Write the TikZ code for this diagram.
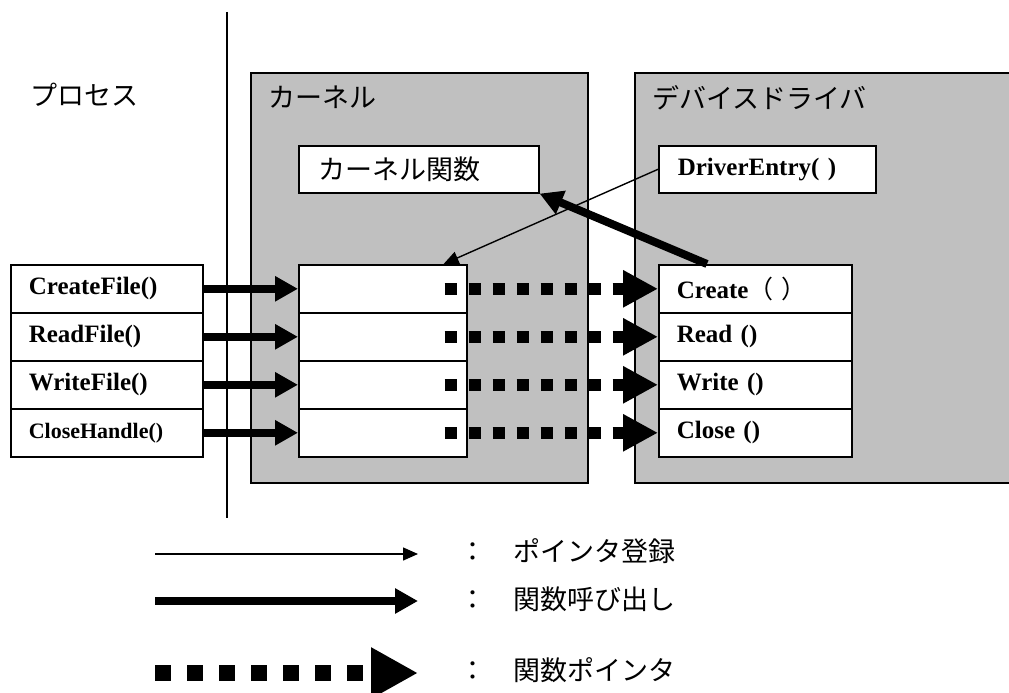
\documentclass[tikz,border=0pt]{standalone}
\usepackage{fontspec}
\setmainfont{Liberation Serif}
\newfontfamily\jp{Noto Sans CJK JP}
\usetikzlibrary{arrows.meta}
\definecolor{panelgray}{RGB}{192,192,192}

\tikzset{
  panel/.style={draw, fill=panelgray, line width=1.6pt, anchor=north west, inner sep=0pt},
  fnbox/.style={draw, fill=white, line width=1.6pt, anchor=north west, minimum height=48pt,
    inner ysep=0pt, inner xsep=18pt, text width=#1, align=left,
    font=\fontsize{25}{29}\selectfont\bfseries},
  jlabel/.style={anchor=west, inner sep=0pt, font=\jp\fontsize{27}{32}\selectfont},
  call/.style={line width=8pt, -{Triangle[length=23pt,width=24pt]}},
  reg/.style={line width=1.4pt, -{Triangle[length=15pt,width=13pt]}},
  fptr/.style={line width=12pt, dash pattern=on 12pt off 12pt, -{Triangle[length=35pt,width=35pt]}},
}

\begin{document}
\begin{tikzpicture}[x=1pt, y=-1pt]
  \useasboundingbox (0,0) rectangle (1009,693);

  %境界線
  \draw[line width=1.5pt] (227,12) -- (227,518);

  % カーネルとドライバ
  \node[panel, minimum width=337pt, minimum height=410pt] (kern) at (250,72) {};
  \node[panel, minimum width=390pt, minimum height=410pt] (drv) at (634,72) {};
  \node[jlabel] (lproc) at (30,95) {プロセス};
  \node[jlabel] (lkern) at (268,97) {カーネル};
  \node[jlabel] (ldrv) at (652,98) {デバイスドライバ};

  % 関数
  \node[fnbox=200pt, inner xsep=20pt, minimum height=47pt, font=\jp\fontsize{27}{32}\selectfont]
    (kfunc) at (298,145) {カーネル関数};
  \node[fnbox=179pt, inner xsep=19pt, minimum height=47pt] (entry) at (658,145) {DriverEntry( )};

  % 各行
  \foreach \i/\api/\dfn in {1/CreateFile()/{Create{\jp\mdseries （ ）}},
                            2/ReadFile()/Read (),
                            3/WriteFile()/Write (),
                            4/{\fontsize{22}{26}\selectfont CloseHandle()}/Close ()} {
    \node[fnbox=156pt] (p\i) at (10,{264+48*(\i-1)}) {\api};
    \node[fnbox=132pt] (k\i) at (298,{264+48*(\i-1)}) {};
    \node[fnbox=157pt] (d\i) at (658,{264+48*(\i-1)}) {\dfn};
  }

  % 矢印
  \foreach \i in {1,...,4} {
    \draw[call] (p\i.east) -- (k\i.west);
    \draw[fptr] ([xshift=-23pt]k\i.east) -- (d\i.west);
  }
  \draw[reg] (entry.west) -- ([xshift=-24pt]k1.north east);
  \draw[call] ([xshift=49pt]d1.north west) -- (kfunc.south east);

  % 凡例
  \coordinate (r0) at (155,554);
  \coordinate (r1) at (418,554);
  \draw[reg] (r0) -- (r1);
  \node[jlabel] (lreg) at (459,551) {：　ポインタ登録};

  \coordinate (c0) at (155,601);
  \coordinate (c1) at (418,601);
  \draw[call] (c0) -- (c1);
  \node[jlabel] (lcall) at (459,599) {：　関数呼び出し};

  \coordinate (f0) at (155,673);
  \coordinate (f1) at (418,673);
  \draw[fptr, line width=16pt, dash pattern=on 16pt off 16pt,
        -{Triangle[length=47pt,width=48pt]}] (f0) -- (f1);
  \node[jlabel] (lfptr) at (459,670) {：　関数ポインタ};
\end{tikzpicture}
\end{document}
